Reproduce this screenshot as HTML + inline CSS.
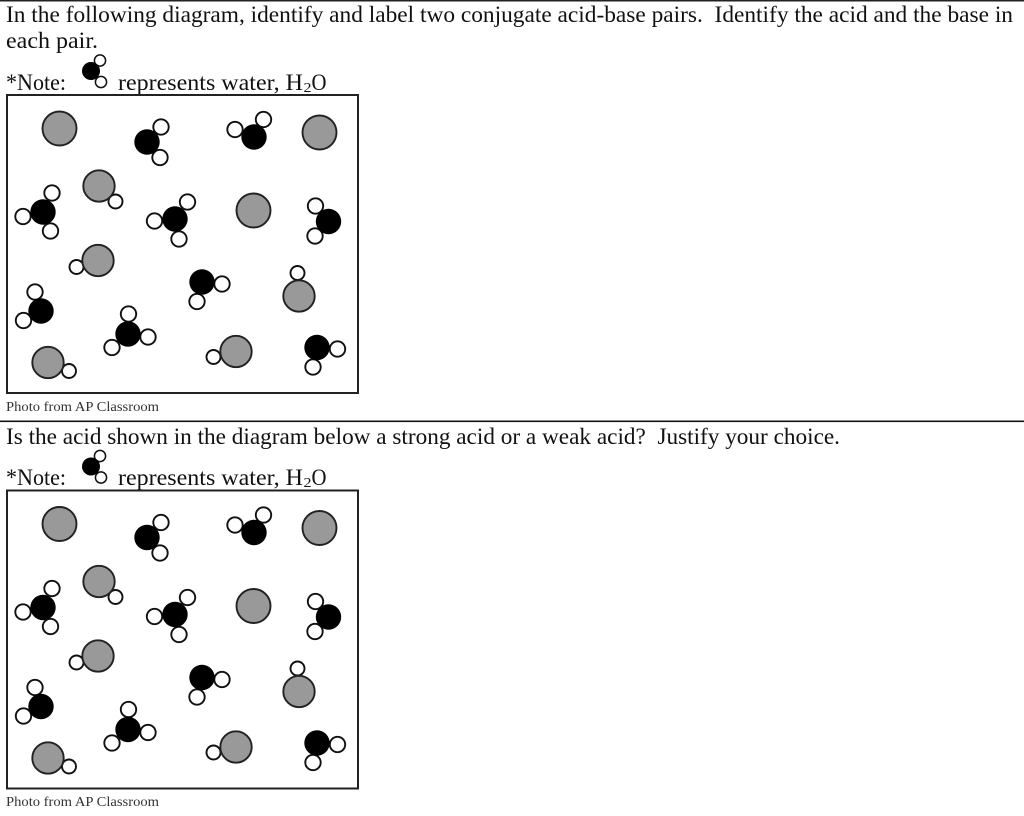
<!DOCTYPE html>
<html><head><meta charset="utf-8"><style>html,body{margin:0;padding:0;background:#fff}svg{display:block}text{font-family:"Liberation Serif",serif;fill:#111;font-size:23px}.p{font-size:13.500px;fill:#333}.s{font-size:14px}</style></head><body>
<svg width="1024" height="816" viewBox="0 0 1024 816" xmlns="http://www.w3.org/2000/svg">
<defs>
<g id="d">
<rect x="7" y="95" width="351" height="298" fill="#fff" stroke="#222" stroke-width="2"/>
<g fill="#fff" stroke="#111" stroke-width="1.9">
<circle cx="161" cy="127" r="7.7"/><circle cx="160" cy="157.5" r="7.7"/>
<circle cx="235" cy="129.5" r="7.7"/><circle cx="263.5" cy="119.5" r="7.7"/>
<circle cx="52" cy="193" r="7.7"/><circle cx="23" cy="216.5" r="7.7"/><circle cx="50.5" cy="231" r="7.7"/>
<circle cx="187.5" cy="202" r="7.7"/><circle cx="154.5" cy="221" r="7.7"/><circle cx="179" cy="239" r="7.7"/>
<circle cx="315.5" cy="206" r="7.7"/><circle cx="315" cy="236" r="7.7"/>
<circle cx="222" cy="284" r="7.7"/><circle cx="197" cy="301.5" r="7.7"/>
<circle cx="35" cy="292" r="7.7"/><circle cx="23.5" cy="320.5" r="7.7"/>
<circle cx="128.5" cy="314" r="7.7"/><circle cx="148" cy="337" r="7.7"/><circle cx="112" cy="347.5" r="7.7"/>
<circle cx="337.5" cy="349" r="7.7"/><circle cx="313" cy="367" r="7.7"/>
<circle cx="115.5" cy="201.5" r="7"/><circle cx="76.5" cy="267" r="7"/><circle cx="297.5" cy="273" r="7"/><circle cx="69" cy="371" r="7"/><circle cx="213.5" cy="357" r="7"/>
</g>
<g fill="#000">
<circle cx="147" cy="142" r="12.7"/><circle cx="254" cy="137" r="12.7"/><circle cx="43" cy="212" r="12.7"/><circle cx="175" cy="219" r="12.7"/><circle cx="328.5" cy="221.5" r="12.7"/><circle cx="202" cy="282" r="12.7"/><circle cx="41" cy="311" r="12.7"/><circle cx="128" cy="334" r="12.7"/><circle cx="317" cy="347.5" r="12.7"/>
</g>
<g fill="#999" stroke="#222" stroke-width="1.9">
<circle cx="59.5" cy="128.5" r="17"/><circle cx="319.5" cy="132.5" r="17"/><circle cx="253.5" cy="210.5" r="17"/>
<circle cx="99" cy="186" r="15.7"/><circle cx="98" cy="260.5" r="15.7"/><circle cx="299" cy="296" r="15.7"/><circle cx="48" cy="362.5" r="15.7"/><circle cx="236" cy="351.5" r="15.7"/>
</g>
</g>
<g id="n">
<circle cx="100" cy="60.5" r="5.6" fill="#fff" stroke="#111" stroke-width="1.5"/>
<circle cx="101" cy="82" r="5.6" fill="#fff" stroke="#111" stroke-width="1.5"/>
<circle cx="91" cy="71" r="9" fill="#000"/>
</g>
</defs>
<rect width="1024" height="816" fill="#fff"/>
<rect x="0" y="0" width="1024" height="1.5" fill="#222"/>
<rect x="0" y="420.5" width="1024" height="1.6" fill="#111"/>
<text x="6" y="22" textLength="1007" lengthAdjust="spacingAndGlyphs">In the following diagram, identify and label two conjugate acid-base pairs.&#160; Identify the acid and the base in</text>
<text x="6" y="48" textLength="92" lengthAdjust="spacingAndGlyphs">each pair.</text>
<use href="#n"/>
<text x="6" y="90" textLength="60" lengthAdjust="spacingAndGlyphs">*Note:</text>
<text x="118" y="90" textLength="185" lengthAdjust="spacingAndGlyphs">represents water, H</text>
<text class="s" x="303.500" y="92" textLength="8" lengthAdjust="spacingAndGlyphs">2</text>
<text x="311.500" y="90" textLength="15" lengthAdjust="spacingAndGlyphs">O</text>
<use href="#d"/>
<text class="p" x="6" y="411" textLength="153" lengthAdjust="spacingAndGlyphs">Photo from AP Classroom</text>
<text x="6" y="444" textLength="834" lengthAdjust="spacingAndGlyphs">Is the acid shown in the diagram below a strong acid or a weak acid?&#160; Justify your choice.</text>
<use href="#n" y="395.500"/>
<text x="6" y="485" textLength="60" lengthAdjust="spacingAndGlyphs">*Note:</text>
<text x="118" y="485" textLength="185" lengthAdjust="spacingAndGlyphs">represents water, H</text>
<text class="s" x="303.500" y="487" textLength="8" lengthAdjust="spacingAndGlyphs">2</text>
<text x="311.500" y="485" textLength="15" lengthAdjust="spacingAndGlyphs">O</text>
<use href="#d" y="395.500"/>
<text class="p" x="6" y="806" textLength="153" lengthAdjust="spacingAndGlyphs">Photo from AP Classroom</text>
</svg>
</body></html>
